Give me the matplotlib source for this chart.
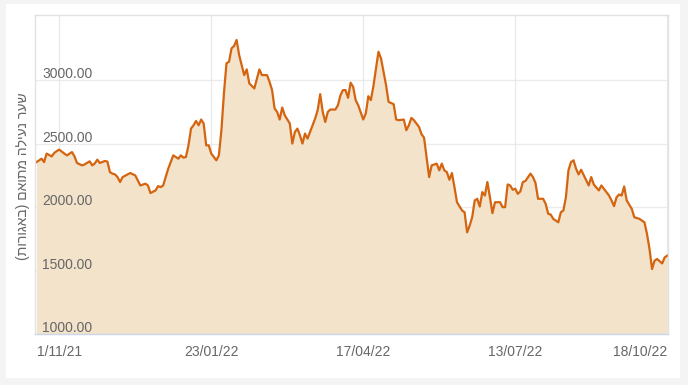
import matplotlib
matplotlib.use("Agg")
import matplotlib.pyplot as plt
from matplotlib.patches import Rectangle
import matplotlib.transforms as mtransforms

plt.rcParams['font.family'] = ['Liberation Sans', 'DejaVu Sans']

# ---- data (trading-day index, adjusted close in agorot) ----
days = [0, 2, 3, 4, 6, 7, 8, 9, 11, 12, 14, 15, 16, 18, 19, 21, 22, 23, 24, 25,
        27, 28, 29, 30, 31, 32, 33, 34, 36, 37, 39, 40, 41,
        43, 44, 45, 47, 48, 49, 50, 52, 54, 56, 57, 58, 59, 60, 61, 62, 63, 64,
        65, 66, 67, 68, 69, 71, 72, 73, 74, 75, 76, 77, 78, 79, 80, 82, 83,
        84, 86, 88, 89, 91, 92, 93, 94, 95, 96, 97, 98, 100, 101, 102, 103, 104,
        105, 106, 107, 109, 110, 111, 112, 113, 114, 115, 116, 118, 119, 120,
        121, 122, 123, 124, 125, 126,
        127, 129, 130, 131, 132, 133, 135, 136, 137, 138, 139, 141, 142, 143,
        145, 146, 147, 148, 149, 151, 152, 153, 155, 156, 158, 159, 160, 161,
        162, 163, 164, 165, 166, 168,
        169, 170, 171, 172, 173, 174, 175, 176, 177, 178, 179, 180, 181, 183,
        184, 185, 186, 187, 188, 189, 190, 191, 192, 193, 195, 196, 197, 198,
        200, 201, 202, 203, 204, 206, 207, 208, 209, 210,
        211, 212, 213, 214, 215, 217, 218, 219, 220, 222, 223, 225, 226, 227,
        228, 229, 230, 231, 232, 233, 235, 236, 238, 240, 241, 242, 243, 244,
        245, 247, 248, 249]
prices = [2356, 2383, 2356, 2423, 2401, 2428, 2443, 2454, 2423, 2409, 2435, 2401,
          2349, 2330, 2338, 2362, 2330, 2345, 2375, 2349,
          2365, 2360, 2277, 2265, 2259, 2238, 2199, 2238, 2259, 2270, 2251, 2212, 2172,
          2186, 2172, 2112, 2133, 2167, 2159, 2172, 2304, 2409, 2383, 2409, 2391,
          2396, 2488, 2620, 2646, 2680, 2646, 2691, 2660, 2488, 2488, 2423, 2370,
          2409, 2607, 2897, 3134, 3146, 3252, 3270, 3318, 3199, 3041, 3086,
          2976, 2936, 3086, 3041, 3041, 2988, 2923, 2778, 2751, 2691, 2786, 2725,
          2660, 2502, 2593, 2620, 2567, 2502, 2581, 2541, 2646, 2699, 2765, 2891,
          2751, 2672, 2751, 2770, 2770, 2804, 2883, 2923, 2923, 2862, 2981, 2949, 2844,
          2804, 2691, 2739, 2875, 2844, 2954, 3225, 3173, 3067, 2962, 2830, 2812,
          2691, 2686, 2691, 2607, 2646, 2704, 2686, 2633, 2575, 2549, 2238, 2330,
          2344, 2291, 2344, 2291, 2277, 2217, 2270, 2159, 2040, 1975,
          1961, 1803, 1856, 1922, 2054, 2067, 2006, 2120, 2093, 2199, 2080, 1954,
          2040, 2040, 2001, 2001, 2180, 2172, 2138, 2146, 2106, 2125, 2199, 2207,
          2265, 2238, 2191, 2067, 2067, 2028, 1949, 1943, 1909, 1882, 1961, 1975,
          2080, 2291,
          2356, 2370, 2304, 2259, 2296, 2212, 2172, 2238, 2180, 2133, 2172, 2120,
          2093, 2054, 2009, 2080, 2101, 2093, 2164, 2054, 1988, 1922, 1909, 1882,
          1791, 1672, 1514, 1580, 1593, 1558, 1606, 1619]

tick_days = [9, 69, 129, 189, 249]
tick_labels = ["1/11/21", "23/01/22", "17/04/22", "13/07/22", "18/10/22"]
y_ticks = [1000, 1500, 2000, 2500, 3000]
y_title = "שער נעילה מתואם (באגורות)"

# Hebrew shown in visual (right-to-left) order
def visual_rtl(s):
    mirror = {"(": ")", ")": "("}
    return "".join(mirror.get(c, c) for c in reversed(s))

LINE = "#d4640f"
FILL = "#f2e3ca"
TXT = "#666666"
GRID = "#ebebeb"

fig = plt.figure(figsize=(6.88, 3.85), dpi=100)
fig.patch.set_facecolor("#f4f4f4")
fig.patches.append(Rectangle((6 / 688, 6.7 / 385), 674 / 688, 374.3 / 385,
                             transform=fig.transFigure, facecolor="white",
                             edgecolor="none", zorder=-5))

ax = fig.add_axes([35.3 / 688, (385 - 334.3) / 385, 632.7 / 688, 319 / 385])
ax.set_zorder(1)
ax.set_facecolor("white")
ax.set_axisbelow(True)

ax.fill_between(days, prices, 1000, color=FILL, linewidth=0, zorder=1)
ax.plot(days, prices, color=LINE, linewidth=1.6, solid_joinstyle="round", zorder=2)

ax.set_xlim(-0.47, 249.3)
ax.set_ylim(1000, 3512)

ax.set_xticks(tick_days)
ax.set_xticklabels(tick_labels)
ax.set_yticks(y_ticks)
ax.set_yticklabels([])
ax.grid(True, color=GRID, linewidth=1.0)
ax.tick_params(axis="x", length=0, pad=8, colors=TXT, labelsize=10)
ax.tick_params(axis="y", length=0)
xl = ax.get_xticklabels()
xl[-1].set_horizontalalignment("right")
xl[-1].set_x(249.3)

for s in ["left", "top", "right"]:
    ax.spines[s].set_color("#e2e2e2")
    ax.spines[s].set_linewidth(1.0)
ax.spines["bottom"].set_color("#ccd6eb")
ax.spines["bottom"].set_linewidth(1.0)

trans = mtransforms.blended_transform_factory(ax.transAxes, ax.transData)
off = mtransforms.ScaledTranslation(0, 2 / 100, fig.dpi_scale_trans)
for v in y_ticks:
    ax.text(7 / 632.7, v, f"{v:.2f}", transform=trans + off, ha="left",
            va="baseline", color=TXT, fontsize=10, zorder=5)

fig.text(23.5 / 688, (385 - 176) / 385, visual_rtl(y_title), rotation=90,
         ha="center", va="center", color=TXT, fontsize=10)

fig.savefig("out.png", dpi=100)
